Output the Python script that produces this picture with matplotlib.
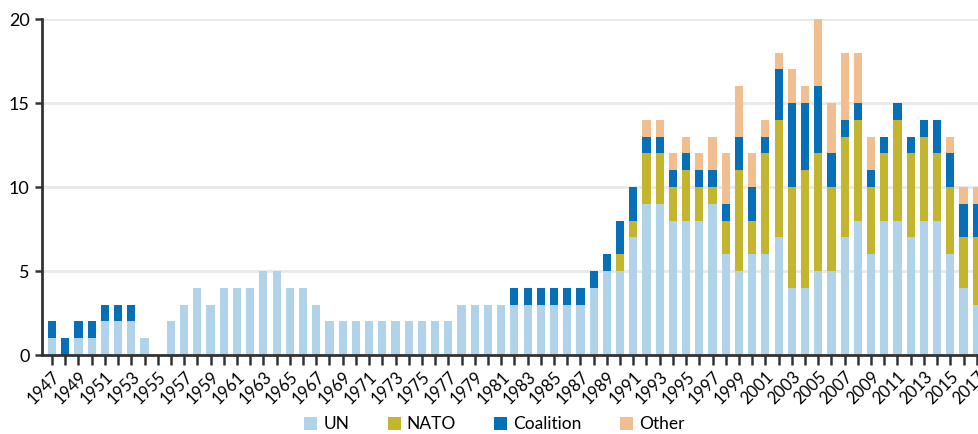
import numpy as np
import matplotlib.pyplot as plt

years = list(range(1947, 2018))

un = [1, 0, 1, 1, 2, 2, 2, 1, 0, 2, 3, 4, 3, 4, 4, 4, 5, 5, 4, 4, 3,
      2, 2, 2, 2, 2, 2, 2, 2, 2, 2,
      3, 3, 3, 3,
      3, 3, 3, 3, 3, 3,
      4, 5, 5, 7,
      9, 9, 8, 8, 8, 9, 6, 5, 6, 6,
      7, 4, 4, 5, 5, 7, 8, 6, 8, 8,
      7, 8, 8, 6, 4, 3]
nato = [0] * 43 + [1, 1,
                   3, 3, 2, 3, 2, 1, 2, 6, 2, 6,
                   7, 6, 7, 7, 5, 6, 6, 4, 4, 6,
                   5, 5, 4, 4, 3, 4]
coalition = [1, 1, 1, 1, 1, 1, 1] + [0] * 28 + [1, 1, 1, 1, 1, 1, 1, 1, 2, 2,
                                              1, 1, 1, 1, 1, 1, 1, 2, 2, 1,
                                              3, 5, 4, 4, 2, 1, 1, 1, 1, 1,
                                              1, 1, 2, 2, 2, 2]
other = [0] * 45 + [1, 1, 1, 1, 1, 2, 3, 3, 2, 1,
                    1, 2, 1, 4, 3, 4, 3, 2, 0, 0,
                    0, 0, 0, 1, 1, 1]

series = [("UN", un, "#b0d3ea"), ("NATO", nato, "#c3b52e"),
          ("Coalition", coalition, "#0570b8"), ("Other", other, "#f1be90")]

plt.rcParams['font.family'] = ['Lato', 'DejaVu Sans']

fig = plt.figure(figsize=(9.79, 4.34), dpi=100)
ax = fig.add_axes([42 / 979, 79 / 434, 937 / 979, 336 / 434])

x = np.array(years)
bottom = np.zeros(len(years))
for name, vals, col in series:
    vals = np.array(vals)
    ax.bar(x, vals, 0.62, bottom=bottom, color=col, label=name, zorder=3)
    bottom += vals

ax.set_xlim(1946.24, 2017.17)
ax.set_ylim(0, 20)
ax.set_yticks([0, 5, 10, 15, 20])
ax.yaxis.grid(True, color="#e8e8e8", linewidth=2, zorder=0)
ax.set_xticks(years)
ax.set_xticklabels([str(y) if y % 2 == 1 else "" for y in years],
                   rotation=45, ha="right", rotation_mode="anchor", fontsize=12)
ax.tick_params(axis="x", length=7, width=1.8, color="#333333", pad=3)
ax.tick_params(axis="y", length=5, width=1.8, color="#333333", labelsize=13, pad=4)
for s in ["top", "right"]:
    ax.spines[s].set_visible(False)
for s in ["left", "bottom"]:
    ax.spines[s].set_color("#333333")
    ax.spines[s].set_linewidth(2)
    ax.spines[s].set_zorder(4)

fig.legend(loc="center", bbox_to_anchor=(0.505, 0.022), ncol=4, frameon=False,
           fontsize=12.5, handlelength=0.75, handleheight=0.75, handletextpad=0.35,
           columnspacing=2.2, borderpad=0)

fig.savefig("out.png", dpi=100)
